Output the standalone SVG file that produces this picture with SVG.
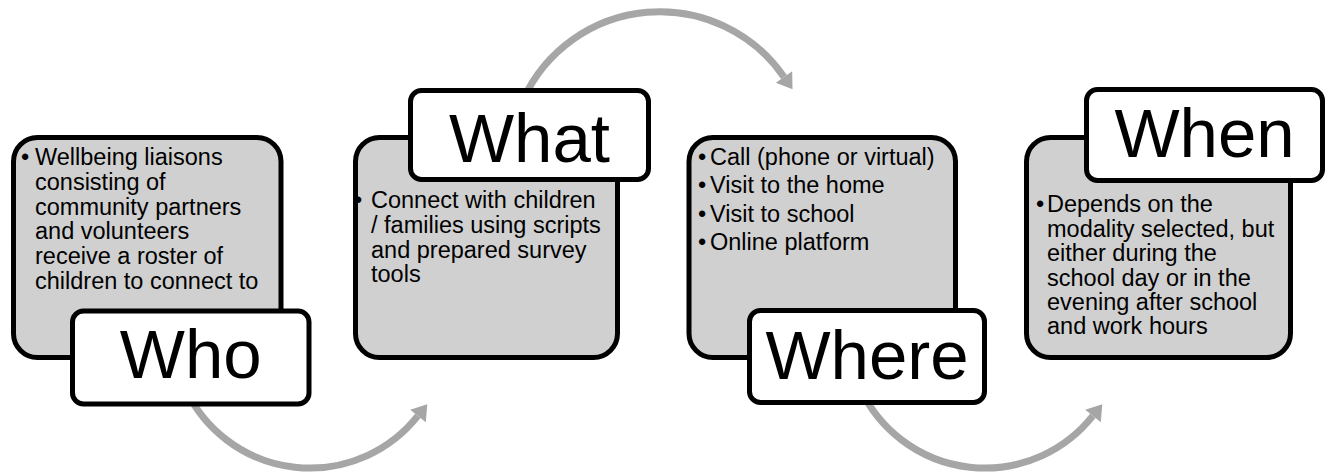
<svg xmlns="http://www.w3.org/2000/svg" width="1325" height="473" viewBox="0 0 1325 473">
<style>
.bg{fill:#ffffff}
.card{fill:#d0d0d0;stroke:#000;stroke-width:5}
.lbl{fill:#ffffff;stroke:#000;stroke-width:5}
.arc{fill:none;stroke:#a6a6a6;stroke-width:7}
.head{fill:#a6a6a6}
.body{font-family:"Liberation Sans",Arial,sans-serif;font-size:23.5px;fill:#000}
.title{font-family:"Liberation Sans",Arial,sans-serif;font-size:69px;fill:#000;text-anchor:middle}
</style>
<rect class="bg" x="0" y="0" width="1325" height="473"/>
<g id="connectors">
  <path class="arc" d="M186,390 A137.5,137.5 0 0 0 417.8,415.9"/>
  <polygon class="head" points="427.3,404.2 425.8,422.2 410.2,409.8"/>
  <path class="arc" d="M523,100 A150.4,150.4 0 0 1 784,77"/>
  <polygon class="head" points="792.5,89.3 792.2,71.3 775.8,82.7"/>
  <g transform="translate(675,0)">
    <path class="arc" d="M186,390 A137.5,137.5 0 0 0 417.8,415.9"/>
    <polygon class="head" points="427.3,404.2 425.8,422.2 410.2,409.8"/>
  </g>
</g>
<g id="node-who">
  <rect class="card" x="13.5" y="137.5" width="267.5" height="220" rx="24"/>
  <text class="body" x="35" y="165"><tspan x="21">•</tspan><tspan x="35">Wellbeing liaisons</tspan></text>
  <text class="body" x="35" y="189.8">consisting of</text>
  <text class="body" x="35" y="214.6">community partners</text>
  <text class="body" x="35" y="239.4">and volunteers</text>
  <text class="body" x="35" y="264.2">receive a roster of</text>
  <text class="body" x="35" y="289">children to connect to</text>
  <rect class="lbl" x="72.5" y="311" width="236.5" height="93" rx="11"/>
  <text class="title" x="190.7" y="378">Who</text>
</g>
<g id="node-what">
  <rect class="card" x="355.5" y="137.5" width="262" height="220" rx="24"/>
  <text class="body" y="208.3"><tspan x="354">•</tspan><tspan x="371">Connect with children</tspan></text>
  <text class="body" x="371" y="232.9">/ families using scripts</text>
  <text class="body" x="371" y="257.5">and prepared survey</text>
  <text class="body" x="371" y="282.1">tools</text>
  <rect class="lbl" x="410.5" y="90.5" width="238" height="89" rx="11"/>
  <text class="title" x="529.5" y="162">What</text>
</g>
<g id="node-where">
  <rect class="card" x="689" y="137.5" width="266.5" height="220" rx="24"/>
  <text class="body" y="165"><tspan x="698">•</tspan><tspan x="710">Call (phone or virtual)</tspan></text>
  <text class="body" y="193.3"><tspan x="698">•</tspan><tspan x="710">Visit to the home</tspan></text>
  <text class="body" y="221.6"><tspan x="698">•</tspan><tspan x="710">Visit to school</tspan></text>
  <text class="body" y="249.9"><tspan x="698">•</tspan><tspan x="710">Online platform</tspan></text>
  <rect class="lbl" x="749.5" y="310.5" width="235" height="92" rx="11"/>
  <text class="title" x="867" y="379">Where</text>
</g>
<g id="node-when">
  <rect class="card" x="1026.5" y="137.5" width="264" height="220" rx="24"/>
  <text class="body" y="212.3"><tspan x="1036">•</tspan><tspan x="1047">Depends on the</tspan></text>
  <text class="body" x="1047" y="236.7">modality selected, but</text>
  <text class="body" x="1047" y="261.1">either during the</text>
  <text class="body" x="1047" y="285.5">school day or in the</text>
  <text class="body" x="1047" y="309.9">evening after school</text>
  <text class="body" x="1047" y="334.3">and work hours</text>
  <rect class="lbl" x="1086.5" y="89.5" width="236" height="91" rx="11"/>
  <text class="title" x="1204.5" y="157">When</text>
</g>
</svg>
